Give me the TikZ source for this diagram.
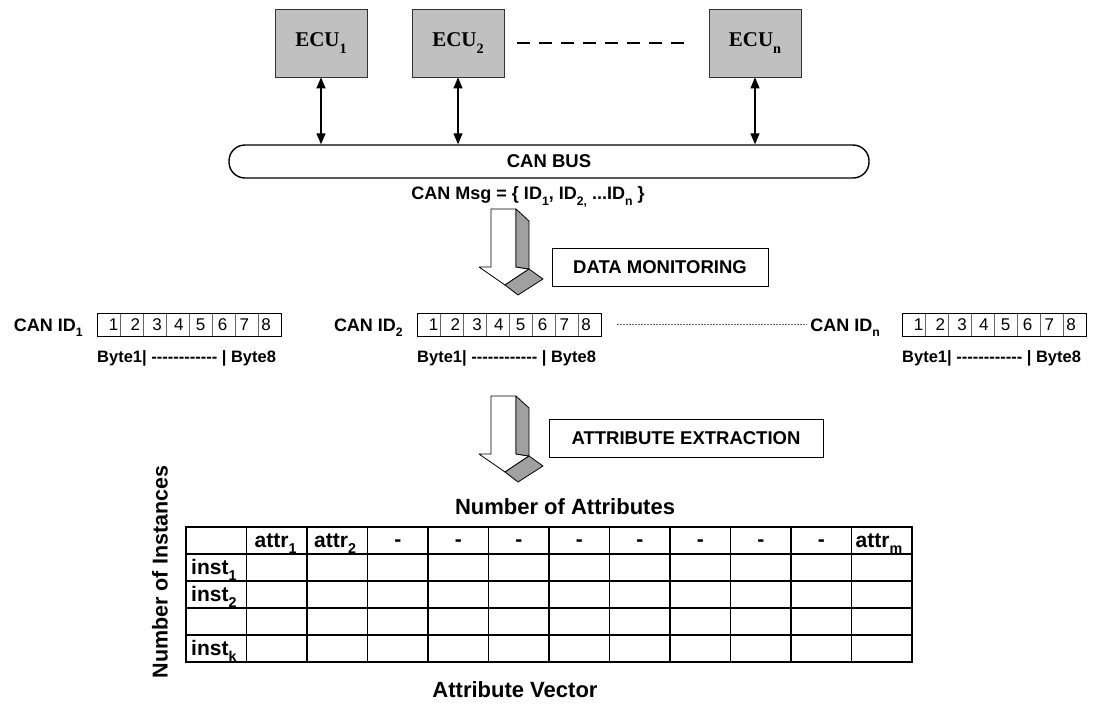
\documentclass[tikz,border=0pt]{standalone}
\usepackage{fontspec}
\setmainfont{Liberation Sans}
\newfontfamily\ecufont{Liberation Serif}
\usepackage{tikz}
\usetikzlibrary{arrows.meta, positioning, calc}
\definecolor{ecugray}{RGB}{192, 192, 192}
\definecolor{facegray}{RGB}{160, 160, 160}
\newcommand{\lo}[1]{\raisebox{-0.3em}{\scalebox{0.68}{#1}}}
\newcommand{\fsz}[1]{\fontsize{#1}{#1}\selectfont}
\newcommand{\dashes}{-\kern0pt-\kern0pt-\kern0pt-\kern0pt-\kern0pt-\kern0pt-\kern0pt-\kern0pt-\kern0pt-\kern0pt-\kern0pt-}

\begin{document}
\begin{tikzpicture}[x=1pt, y=-1pt,
    ecu/.style={draw=black!80, line width=0.8pt, fill=ecugray, minimum width=92pt, minimum height=68pt, inner sep=0pt, font=\ecufont\fsz{21}\bfseries},
    canbus/.style={draw, line width=1.4pt, rounded corners=16pt, minimum width=640pt, minimum height=33pt, inner sep=0pt, font=\fsz{18.5}\bfseries},
    stage/.style={draw, line width=1pt, minimum height=38pt, inner sep=0pt, font=\fsz{18.5}\bfseries},
    lbl/.style={font=\fsz{18}\bfseries, inner sep=0pt},
    bytelbl/.style={font=\fsz{16.5}\bfseries, inner sep=0pt, anchor=base west},
    cell/.style={draw=black!60, line width=0.6pt, minimum width=23pt, minimum height=23pt, inner sep=0pt, outer sep=0pt},
    digit/.style={font=\fsz{17}, inner sep=0pt},
    tcell/.style={draw, line width=1.2pt, minimum width=60.5pt, minimum height=27pt, inner sep=0pt, outer sep=0pt},
    tab/.style={font=\fsz{21}\bfseries, inner sep=0pt},
    dotline/.style={draw=black!60, line width=0.6pt, dash pattern=on 2pt off 1pt},
    link/.style={{Triangle[length=11pt,width=9pt]}-{Triangle[length=11pt,width=9pt]}, line width=1.3pt}
]
    \useasboundingbox (0,0) rectangle (1099,704);

    % ECUs
    \node[ecu] (ecu1) at (321,43) {ECU\lo{1}};
    \node[ecu] (ecu2) at (458,43) {ECU\lo{2}};
    \node[ecu] (ecun) at (755,43) {ECU\lo{n}};
    \draw[dash pattern=on 13pt off 9pt, line width=1.2pt] ($(ecu2.east)+(13,0)$) -- ($(ecun.west)+(-17,0)$);

    % CAN bus
    \node[canbus] (bus) at (549,161.5) {CAN BUS};
    \foreach \e in {ecu1,ecu2,ecun}
        \draw[link] (\e.south) -- (\e.south |- bus.north);
    \node[lbl] (msg) at (528,197) {CAN Msg = \{ ID\lo{1}, ID\lo{2,} ...ID\lo{n} \}};

    % 3D block arrows
    \foreach \ay in {209,396} {
        \begin{scope}[shift={(491,\ay)}, line width=0.8pt, line join=round]
            \draw[fill=white] (0,0) -- (25,0) -- (25,58) -- (38,60) -- (14,76) -- (-12,58) -- (0,58) -- cycle;
            \draw[fill=facegray] (25,0) -- (38,12) -- (38,60) -- (25,58) -- cycle;
            \draw[fill=facegray] (38,60) -- (52,70) -- (27,86) -- (14,76) -- cycle;
        \end{scope}
    }

    % Data monitoring
    \node[stage, minimum width=216pt] (mon) at (660,267) {DATA MONITORING};

    % Message frames
    \foreach \bx/\fr/\sb/\gap in {97/a/1/14, 417/b/2/14, 902/c/n/22} {
        \foreach \k in {1,...,8} {
            \node[cell, anchor=north west] (\fr\k) at ({\bx+23*(\k-1)},313) {};
            \node[digit] (\fr d\k) at ({\bx+16.5+21.8*(\k-1)},324.5) {\k};
        }
        \draw[line width=0.9pt] (\fr1.north west) rectangle (\fr8.south east);
        \node[lbl, anchor=base east] (id\fr) at ($(\fr1.west)+(-\gap,6.5)$) {CAN ID\lo{\sb}};
        \node[bytelbl] (byte\fr) at ($(\fr1.south west)+(0,26)$) {Byte1| \dashes{} | Byte8};
    }
    \draw[dotline] ($(b8.east)+(16,0)$) -- ($(b8.east -| idc.west)+(-4,0)$);

    % Attribute extraction
    \node[stage, minimum width=274pt] (ext) at (686,438) {ATTRIBUTE EXTRACTION};

    % Attribute table
    \node[tab, font=\fsz{22}\bfseries] (natt) at (565,507) {Number of Attributes};
    \foreach \r in {0,...,4}
        \foreach \c in {0,...,11}
            \node[tcell, anchor=north west] (t\r-\c) at ({186+60.5*\c},{527+27*\r}) {};
    \foreach \c in {3,...,10}
        \node[tab, anchor=base] (h\c) at ($(t0-\c.center)+(0,6)$) {-};
    \node[tab, anchor=base west] (h1) at ($(t0-1.south west)+(8,-7)$) {attr\lo{1}};
    \node[tab, anchor=base west] (h2) at ($(t0-2.south west)+(7,-7)$) {attr\lo{2}};
    \node[tab, anchor=base west] (h11) at ($(t0-11.south west)+(4,-7)$) {attr\lo{m}};
    \node[tab, anchor=base west] (r1) at ($(t1-0.south west)+(5,-7)$) {inst\lo{1}};
    \node[tab, anchor=base west] (r2) at ($(t2-0.south west)+(5,-7)$) {inst\lo{2}};
    \node[tab, anchor=base west] (r4) at ($(t4-0.south west)+(5,-7)$) {inst\lo{k}};
    \node[tab, font=\fsz{21.5}\bfseries, rotate=90] (ninst) at (160,572) {Number of Instances};
    \node[tab, font=\fsz{22}\bfseries] (avec) at (515,690) {Attribute Vector};
\end{tikzpicture}
\end{document}
